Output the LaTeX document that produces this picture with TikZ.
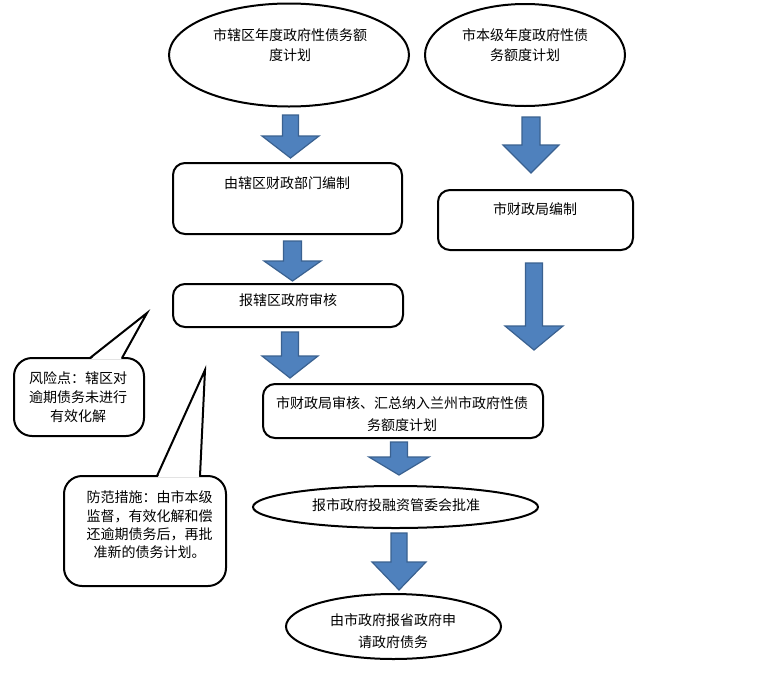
\documentclass[tikz,border=0pt]{standalone}
\usepackage{fontspec}
\newfontfamily\cjk{Noto Sans CJK SC}
\usetikzlibrary{shapes.geometric,positioning}
\definecolor{arrowblue}{HTML}{4F81BD}
\definecolor{arrowedge}{HTML}{3A6190}

% down arrow: centre x, head half width, shaft half width, top, head start, tip
\newcommand{\downblock}[6]{%
  \filldraw[bluearrow] ({#1-#3},#4) -- ({#1+#3},#4) -- ({#1+#3},#5) -- ({#1+#2},#5)
    -- (#1,#6) -- ({#1-#2},#5) -- ({#1-#3},#5) -- cycle;}

\tikzset{
  oval/.style={draw, ellipse, line width=2pt, inner sep=0pt},
  plan/.style={draw, line width=2pt, rounded corners=12pt, inner sep=0pt},
  bubble/.style={draw, line width=2pt, rounded corners=18pt, inner sep=0pt},
  txt/.style={align=center, inner sep=0pt},
  bluearrow/.style={fill=arrowblue, draw=arrowedge, line width=1.2pt},
}

\begin{document}
\begin{tikzpicture}[x=1pt, y=-1pt, font=\cjk\fontsize{14}{20}\selectfont]
  \useasboundingbox[fill=white] (0,0) rectangle (784,675);

  % top plans
  \node[oval, minimum width=240, minimum height=103] (dist) at (289,55) {};
  \node[txt] (distt) at (290,45) {市辖区年度政府性债务额\\度计划};
  \node[oval, minimum width=200, minimum height=102] (city) at (525,55) {};
  \node[txt] (cityt) at (525,45) {市本级年度政府性债\\务额度计划};

  % compiling
  \node[plan, minimum width=229, minimum height=71] (distfin) at (287.5,198.5) {};
  \node[txt] (distfint) at (287,183) {由辖区财政部门编制};
  \node[plan, minimum width=195, minimum height=60] (cityfin) at (535.5,220) {};
  \node[txt] (cityfint) at (535,209) {市财政局编制};

  % district review
  \node[plan, minimum width=230, minimum height=43] (review) at (288,305.5) {};
  \node[txt] (reviewt) at (288,300) {报辖区政府审核};

  % city summary
  \node[plan, minimum width=280, minimum height=54] (summary) at (403,411) {};
  \node[txt] (summaryt) at (402,414) {市财政局审核、汇总纳入兰州市政府性债\\[2pt]务额度计划};

  % approval
  \node[oval, minimum width=285, minimum height=42] (approve) at (395.5,507) {};
  \node[txt] (approvet) at (396,505) {报市政府投融资管委会批准};
  \node[oval, minimum width=215, minimum height=65] (apply) at (393.5,626.5) {};
  \node[txt] (applyt) at (393,631) {由市政府报省政府申\\[2pt]请政府债务};

  % block arrows
  \downblock{290.5}{28.5}{8}{115}{136}{158}
  \downblock{531}{28}{9}{117}{145}{173}
  \downblock{292.5}{28.5}{9}{241}{261}{281}
  \downblock{534}{29}{8.5}{263}{326}{350}
  \downblock{290}{28}{8.5}{332}{356}{378}
  \downblock{399}{30}{8.5}{442}{457}{475}
  \downblock{399}{27}{8}{533}{562}{590}

  % risk callout
  \node[bubble, minimum width=130, minimum height=78] (risk) at (79,397) {};
  \fill[white] (91,359) -- (147,313) -- (121,359) -- cycle;
  \draw[line width=2pt] (90,358) -- (147,313) -- (122,358);
  \node[txt, font=\cjk\fontsize{14}{19}\selectfont] (riskt) at (78,397) {风险点：辖区对\\逾期债务未进行\\有效化解};

  % measure callout
  \node[bubble, minimum width=162, minimum height=110] (measure) at (145,531) {};
  \fill[white] (158,477) -- (205,370) -- (199,477) -- cycle;
  \draw[line width=2pt] (157,476) -- (205,370) -- (200,476);
  \node[txt, font=\cjk\fontsize{14}{18.3}\selectfont] (measuret) at (149.5,525) {防范措施：由市本级\\监督，有效化解和偿\\还逾期债务后，再批\\准新的债务计划。};
\end{tikzpicture}
\end{document}
